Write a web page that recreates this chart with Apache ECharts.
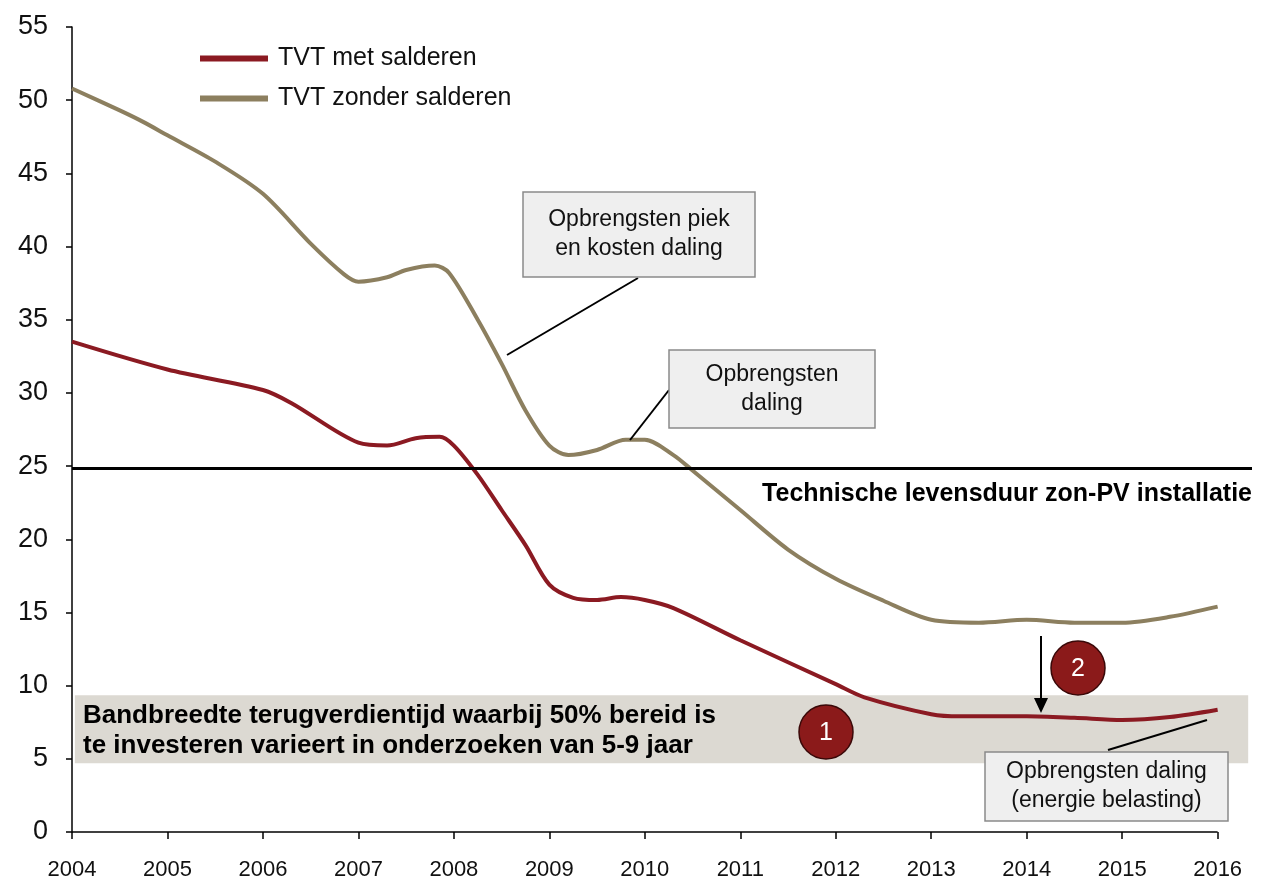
<!DOCTYPE html>
<html lang="nl">
<head>
    <meta charset="UTF-8">
    <title>Terugverdientijd zon-PV</title>
    <script src="https://cdn.jsdelivr.net/npm/echarts@6/dist/echarts.min.js"></script>
    <style>
        html, body { margin: 0; padding: 0; background: #fff; }
        #main { width: 1267px; height: 885px; }
    </style>
</head>
<body>
<div id="main"></div>
<script type="text/javascript">
    // jaren waarop de lijnen gelezen zijn (fractie = deel van het jaar)
    var yearsZonder = [2004, 2004.5, 2004.75, 2005, 2005.5, 2006, 2006.5, 2006.85, 2007, 2007.3, 2007.5, 2007.8, 2007.95,
        2008.25, 2008.5, 2008.75, 2009, 2009.2, 2009.5, 2009.8, 2010, 2010.3, 2010.5, 2011, 2011.5, 2012, 2012.5,
        2013, 2013.5, 2014, 2014.5, 2015, 2015.5, 2016];
    var tvtZonder = [50.8, 49.3, 48.5, 47.6, 45.8, 43.6, 40.2, 38.1, 37.6, 37.9, 38.4, 38.7, 38.2,
        35.0, 32.0, 28.8, 26.4, 25.75, 26.1, 26.8, 26.8, 25.75, 24.7, 22.0, 19.3, 17.3, 15.8,
        14.5, 14.3, 14.5, 14.3, 14.3, 14.7, 15.4];

    var yearsMet = [2004, 2005, 2006, 2006.3, 2007, 2007.3, 2007.6, 2007.85, 2008, 2008.25, 2008.5, 2008.75, 2009,
        2009.25, 2009.5, 2009.75, 2010, 2010.3, 2011, 2012, 2012.3, 2013, 2013.3, 2014, 2014.5, 2015, 2015.5, 2016];
    var tvtMet = [33.5, 31.6, 30.2, 29.3, 26.6, 26.4, 26.9, 27.0, 26.4, 24.4, 22.0, 19.6, 16.9,
        16.0, 15.85, 16.05, 15.85, 15.3, 13.1, 10.1, 9.2, 8.05, 7.9, 7.9, 7.8, 7.65, 7.85, 8.35];

    var yearTicks = [2004, 2005, 2006, 2007, 2008, 2009, 2010, 2011, 2012, 2013, 2014, 2015, 2016];
    var levensduur = 24.85;          // technische levensduur
    var bandbreedte = [4.7, 9.35];   // 5-9 jaar bandbreedte

    function pairs(xs, ys) {
        var out = [];
        for (var i = 0; i < xs.length; i++) {
            out.push([xs[i], ys[i]]);
        }
        return out;
    }

    var font = 'Liberation Sans, Arial, sans-serif';
    var myChart = echarts.init(document.getElementById('main'));

    function box(x, y, w, h, text) {
        return {
            type: 'group', x: x, y: y, z: 100,
            children: [
                { type: 'rect', z: 100, shape: { x: 0, y: 0, width: w, height: h },
                  style: { fill: '#efefef', stroke: '#8a8a8a', lineWidth: 1.5 } },
                { type: 'text', z: 101, x: w / 2, y: h / 2,
                  style: { text: text, fontSize: 23, fontFamily: font, fill: '#111',
                           align: 'center', verticalAlign: 'middle', lineHeight: 29 } }
            ]
        };
    }

    function circle(cx, cy, label) {
        return {
            type: 'group', x: cx, y: cy, z: 100,
            children: [
                { type: 'circle', z: 100, shape: { cx: 0, cy: 0, r: 27 },
                  style: { fill: '#8b1a1a', stroke: '#3a0808', lineWidth: 1.5 } },
                { type: 'text', z: 101, x: 0, y: 1,
                  style: { text: label, fontSize: 25, fontFamily: font, fill: '#fff',
                           align: 'center', verticalAlign: 'middle' } }
            ]
        };
    }

    function line(x1, y1, x2, y2) {
        return { type: 'line', z: 100, shape: { x1: x1, y1: y1, x2: x2, y2: y2 },
                 style: { stroke: '#000', lineWidth: 2 } };
    }

    var option = {
        animation: false,
        backgroundColor: '#fff',
        textStyle: { fontFamily: font },
        grid: { left: 72, right: 15, top: 27, bottom: 53 },
        legend: {
            orient: 'vertical', left: 195, top: 41,
            icon: 'rect', itemWidth: 68, itemHeight: 6, itemGap: 15,
            textStyle: { fontSize: 25, color: '#111', fontFamily: font, padding: [0, 0, 0, 5] },
            data: ['TVT met salderen', 'TVT zonder salderen']
        },
        xAxis: {
            type: 'value', min: 2004, max: 2016.36,
            axisLine: { show: false },
            axisTick: { show: true, length: 7, customValues: yearTicks, lineStyle: { color: '#000', width: 1.5 } },
            axisLabel: { customValues: yearTicks, fontSize: 22, color: '#111', margin: 27, fontFamily: font,
                         formatter: function (v) { return String(v); } },
            splitLine: { show: false }
        },
        yAxis: {
            type: 'value', min: 0, max: 55, interval: 5,
            axisLine: { show: true, lineStyle: { color: '#000', width: 1.5 } },
            axisTick: { show: true, length: 6, lineStyle: { color: '#000', width: 1.5 } },
            axisLabel: { fontSize: 27, color: '#111', margin: 24, fontFamily: font },
            splitLine: { show: false }
        },
        series: [
            {
                name: 'TVT met salderen', type: 'line', smooth: 0.3, showSymbol: false, z: 4,
                data: pairs(yearsMet, tvtMet),
                lineStyle: { color: '#8b1a22', width: 4 }, itemStyle: { color: '#8b1a22' },
                markArea: {
                    silent: true,
                    itemStyle: { color: '#dcd9d2' },
                    data: [[{ coord: [2004.03, bandbreedte[0]] }, { coord: [2016.32, bandbreedte[1]] }]]
                },
                markLine: {
                    silent: true, symbol: 'none', label: { show: false },
                    data: [
                        [{ coord: [2004, 0], lineStyle: { color: '#000', width: 1.5, type: 'solid' } },
                         { coord: [2016, 0] }],
                        { yAxis: levensduur, lineStyle: { color: '#000', width: 3, type: 'solid' } }
                    ]
                }
            },
            {
                name: 'TVT zonder salderen', type: 'line', smooth: 0.3, showSymbol: false, z: 3,
                data: pairs(yearsZonder, tvtZonder),
                lineStyle: { color: '#8c7f5f', width: 4 }, itemStyle: { color: '#8c7f5f' }
            }
        ],
        graphic: [
            { type: 'text', z: 100, x: 1252, y: 494,
              style: { text: 'Technische levensduur zon-PV installatie', fontSize: 25, fontWeight: 'bold',
                       fontFamily: font, fill: '#000', align: 'right', verticalAlign: 'middle' } },
            { type: 'text', z: 100, x: 83, y: 731,
              style: { text: 'Bandbreedte terugverdientijd waarbij 50% bereid is\nte investeren varieert in onderzoeken van 5-9 jaar',
                       fontSize: 26, fontWeight: 'bold', fontFamily: font, fill: '#000',
                       align: 'left', verticalAlign: 'middle', lineHeight: 30 } },
            line(638, 278, 507, 355),
            line(669, 390, 630, 440),
            line(1108, 750, 1207, 720),
            box(523, 192, 232, 85, 'Opbrengsten piek\nen kosten daling'),
            box(669, 350, 206, 78, 'Opbrengsten\ndaling'),
            box(985, 752, 243, 69, 'Opbrengsten daling\n(energie belasting)'),
            { type: 'line', z: 100, shape: { x1: 1041, y1: 636, x2: 1041, y2: 700 },
              style: { stroke: '#000', lineWidth: 2 } },
            { type: 'polygon', z: 100, shape: { points: [[1034, 698], [1048, 698], [1041, 713]] },
              style: { fill: '#000' } },
            circle(826, 732, '1'),
            circle(1078, 668, '2')
        ]
    };

    myChart.setOption(option);
</script>
</body>
</html>
